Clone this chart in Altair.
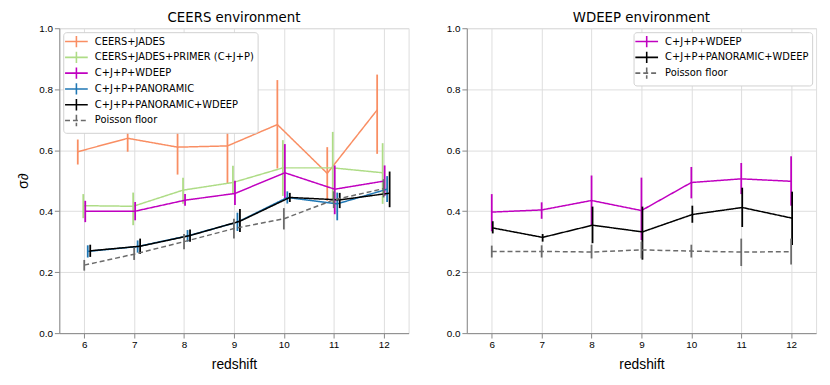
import altair as alt
import pandas as pd

REDSHIFT = [6, 7, 8, 9, 10, 11, 12]

# ---- CEERS environment (left panel) ----
L_SERIES = ["CEERS+JADES", "CEERS+JADES+PRIMER (C+J+P)", "C+J+P+WDEEP",
            "C+J+P+PANORAMIC", "C+J+P+PANORAMIC+WDEEP", "Poisson floor"]
L_OFFSET = [-0.13, -0.02, 0.02, 0.07, 0.12, 0.0]
L_COLORS = ["#f98e63", "#aedc86", "#c000c0", "#1f77b4", "#000000", "#6b6b6b"]

L_Y = [
    [0.595, 0.639, 0.610, 0.614, 0.684, 0.524, 0.732],
    [0.418, 0.416, 0.469, 0.494, 0.542, 0.542, 0.526],
    [0.400, 0.400, 0.436, 0.458, 0.526, 0.472, 0.499],
    [0.268, 0.284, 0.319, 0.364, 0.445, 0.424, 0.472],
    [0.270, 0.285, 0.320, 0.367, 0.445, 0.437, 0.459],
    [0.223, 0.259, 0.300, 0.343, 0.375, 0.437, 0.474],
]
L_LO = [
    [0.553, 0.595, 0.520, 0.490, 0.540, 0.434, 0.588],
    [0.377, 0.354, 0.424, 0.456, 0.450, 0.424, 0.424],
    [0.364, 0.370, 0.418, 0.420, 0.440, 0.390, 0.450],
    [0.248, 0.264, 0.300, 0.335, 0.425, 0.370, 0.430],
    [0.250, 0.260, 0.300, 0.332, 0.430, 0.410, 0.413],
    [0.205, 0.240, 0.275, 0.310, 0.340, 0.410, 0.445],
]
L_HI = [
    [0.635, 0.685, 0.683, 0.683, 0.830, 0.610, 0.848],
    [0.456, 0.461, 0.510, 0.549, 0.633, 0.660, 0.623],
    [0.434, 0.430, 0.456, 0.500, 0.620, 0.550, 0.550],
    [0.288, 0.304, 0.338, 0.395, 0.465, 0.461, 0.515],
    [0.290, 0.310, 0.340, 0.407, 0.460, 0.460, 0.530],
    [0.240, 0.280, 0.325, 0.375, 0.410, 0.465, 0.505],
]

# ---- WDEEP environment (right panel) ----
R_SERIES = ["C+J+P+WDEEP", "C+J+P+PANORAMIC+WDEEP", "Poisson floor"]
R_OFFSET = [0.0, 0.02, 0.0]
R_COLORS = ["#c000c0", "#000000", "#6b6b6b"]
R_Y = [
    [0.397, 0.404, 0.435, 0.402, 0.494, 0.506, 0.498],
    [0.345, 0.314, 0.354, 0.332, 0.389, 0.412, 0.377],
    [0.268, 0.268, 0.266, 0.273, 0.269, 0.266, 0.267],
]
R_LO = [
    [0.334, 0.375, 0.354, 0.305, 0.442, 0.456, 0.418],
    [0.327, 0.300, 0.295, 0.241, 0.362, 0.348, 0.289],
    [0.248, 0.248, 0.245, 0.245, 0.248, 0.220, 0.225],
]
R_HI = [
    [0.456, 0.429, 0.517, 0.510, 0.545, 0.558, 0.580],
    [0.367, 0.325, 0.415, 0.415, 0.418, 0.477, 0.464],
    [0.287, 0.288, 0.290, 0.300, 0.290, 0.310, 0.310],
]

FONT = "DejaVu Sans"
# legend glyph: short line with a vertical error bar through it
CROSS = "M-1.4,0H2.8M0.7,-1.05V1.05"


def make_df(series, offsets, ys, los, his):
    rows = []
    for s, off, yv, lv, hv in zip(series, offsets, ys, los, his):
        for z, y, lo, hi in zip(REDSHIFT, yv, lv, hv):
            rows.append({"series": s, "z": z + off, "y": y, "lo": lo, "hi": hi})
    return pd.DataFrame(rows)


def panel(series, offsets, colors, ys, los, his, title, orient, ytitle):
    df = make_df(series, offsets, ys, los, his)
    dashes = [[5, 3] if s == "Poisson floor" else [1, 0] for s in series]
    leg = alt.Legend(title=None, orient=orient, symbolType=CROSS, symbolSize=120,
                     symbolStrokeWidth=1.6, labelFont=FONT, labelFontSize=10,
                     labelColor="#000000",
                     labelLimit=400, fillColor="white", strokeColor="#d0d0d0",
                     padding=3, rowPadding=-3.8, offset=4, cornerRadius=3,
                     labelOffset=16)
    color = alt.Color("series:N", scale=alt.Scale(domain=series, range=colors), legend=leg)
    dash = alt.StrokeDash("series:N", scale=alt.Scale(domain=series, range=dashes), legend=leg)
    x = alt.X("z:Q", scale=alt.Scale(domain=[5.5, 12.5], nice=False, zero=False),
              axis=alt.Axis(values=REDSHIFT, format="d", title="redshift",
                            titleFontWeight="normal", titleFontSize=14, titlePadding=8))
    yaxis = alt.Axis(values=[0, 0.2, 0.4, 0.6, 0.8, 1.0], format=".1f",
                     title=ytitle if ytitle else None, titleFontWeight="normal",
                     titleFontSize=14, titlePadding=8)
    y = alt.Y("y:Q", scale=alt.Scale(domain=[0, 1], nice=False), axis=yaxis)
    layers = []
    base = alt.Chart(df)
    for s in series:
        b = base.transform_filter(alt.datum.series == s)
        layers.append(b.mark_line(strokeWidth=1.5).encode(x=x, y=y, color=color, strokeDash=dash))
        layers.append(b.mark_rule(strokeWidth=1.8).encode(x=x, y=alt.Y("lo:Q"), y2="hi:Q", color=color))
    return alt.layer(*layers).properties(
        width=354, height=309,
        title=alt.TitleParams(title, font=FONT, fontSize=13.5, fontWeight="normal",
                              color="#000000", offset=-1.5))


left = panel(L_SERIES, L_OFFSET, L_COLORS, L_Y, L_LO, L_HI, "CEERS environment", "top-left", "σ∂")
right = panel(R_SERIES, R_OFFSET, R_COLORS, R_Y, R_LO, R_HI, "WDEEP environment", "top-right", None)

chart = alt.hconcat(left, right, spacing=36).resolve_scale(
    color="independent", strokeDash="independent").resolve_legend(
    color="independent", strokeDash="independent").configure_view(
    stroke="#000000", strokeWidth=1).configure_axis(
    labelFont=FONT, labelFontSize=11.5, labelColor="#000000",
    titleFont=FONT, titleColor="#000000",
    gridColor="#b8b8b8", gridDash=[2, 2], gridWidth=0.7,
    domainColor="#000000", tickColor="#000000", tickSize=4, labelPadding=3
).configure(padding={"left": 8, "top": 0, "right": 5, "bottom": 5})

chart.save("out.html", embed_options={"renderer": "svg", "actions": False})
